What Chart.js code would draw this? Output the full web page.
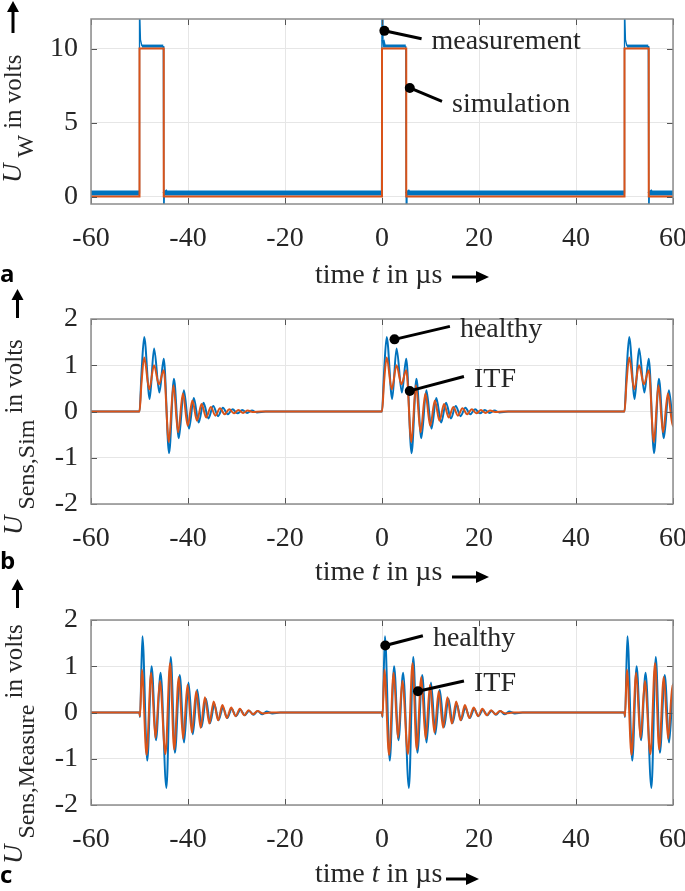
<!DOCTYPE html>
<html>
<head>
<meta charset="utf-8">
<script src="https://cdn.jsdelivr.net/npm/chart.js@4.4.1/dist/chart.umd.min.js"></script>
<style>
  body { margin: 0; background: #fff; }
  #wrap { position: relative; width: 685px; height: 891px; overflow: hidden;
          font-family: 'Liberation Serif', 'Times New Roman', serif; color: #262626; }
  canvas { position: absolute; left: 0; }
  .xt { position: absolute; left: 315px; font-size: 28px; line-height: 1; white-space: nowrap; }
  .yt { position: absolute; font-size: 25px; line-height: 1; white-space: nowrap;
        transform: rotate(-90deg); transform-origin: left top; }
  .yt i { font-size: 27px; }
  .yt sub { font-size: 24px; vertical-align: -0.5em; margin: 0 6px 0 6px; }
  .tag { position: absolute; left: 0; font-family: 'Open Sans', sans-serif; font-weight: bold;
         font-size: 24px; line-height: 1; color: #000; }
  svg.arr { position: absolute; overflow: visible; }
</style>
</head>
<body>
<div id="wrap">
  <canvas id="cA" width="685" height="260" style="top:0"></canvas>
  <canvas id="cB" width="685" height="260" style="top:300px"></canvas>
  <canvas id="cC" width="685" height="260" style="top:601px"></canvas>

  <div class="yt" style="left:-1px;top:183px"><i>U</i><sub>W</sub>in volts</div>
  <div class="yt" style="left:0;top:535px"><i>U</i><sub>Sens,Sim</sub>in volts</div>
  <div class="yt" style="left:0;top:864px"><i>U</i><sub>Sens,Measure</sub>in volts</div>

  <div class="xt" style="top:260px">time <i>t</i> in µs</div>
  <div class="xt" style="top:557px">time <i>t</i> in µs</div>
  <div class="xt" style="top:859px">time <i>t</i> in µs</div>

  <div class="tag" style="top:261px">a</div>
  <div class="tag" style="top:548px">b</div>
  <div class="tag" style="top:862px">c</div>

  <svg class="arr" width="1" height="1" style="left:0;top:0">
    <g fill="#000" stroke="#000">
      <line x1="13" y1="33" x2="13" y2="10" stroke-width="3"/><polygon points="7,12 19,12 13,1" stroke="none"/>
      <line x1="17.5" y1="318" x2="17.5" y2="298" stroke-width="3"/><polygon points="11.5,300 23.5,300 17.5,289" stroke="none"/>
      <line x1="17.5" y1="608" x2="17.5" y2="588" stroke-width="3"/><polygon points="11.5,590 23.5,590 17.5,579" stroke="none"/>
      <line x1="452" y1="277" x2="478" y2="277" stroke-width="3"/><polygon points="476,271 476,283 489,277" stroke="none"/>
      <line x1="452" y1="577" x2="478" y2="577" stroke-width="3"/><polygon points="476,571 476,583 489,577" stroke="none"/>
      <line x1="446" y1="879" x2="468" y2="879" stroke-width="3"/><polygon points="466,873 466,885 479,879" stroke="none"/>
    </g>
  </svg>
</div>

<script>
// ---- data ----
const xTicks = [-60, -40, -20, 0, 20, 40, 60];
const yTicksA = [0, 5, 10];
const yTicksBC = [-2, -1, 0, 1, 2];
const pulseStarts = [-50, 0, 50];

// panel a: gate voltage (time in µs, volts)
const measT = [-60, -50.1, -50.0, -49.8, -49.5, -45.1, -45.0, -44.85, -44.5,
               -0.1, 0.0, 0.2, 0.5, 4.9, 5.0, 5.15, 5.5,
               49.9, 50.0, 50.2, 50.5, 54.9, 55.0, 55.15, 55.5, 60];
const measV = [0.25, 0.25, 13.0, 10.6, 10.17, 10.17, -1.5, 0.4, 0.25,
               0.25, 13.0, 10.6, 10.17, 10.17, -1.5, 0.4, 0.25,
               0.25, 13.0, 10.6, 10.17, 10.17, -1.5, 0.4, 0.25, 0.25];
const simT = [-60, -50, -50, -45, -45, 0, 0, 5, 5, 50, 50, 55, 55, 60];
const simV = [0, 0, 10, 10, 0, 0, 10, 10, 0, 0, 10, 10, 0, 0];

// panel b: simulated sensor voltage, one burst (time after pulse start, volts)
const simHealthyRel = [0, 0.4, 0.97, 2.1, 3.0, 4.1, 5.0, 6.1, 7.1, 8.1, 9.15, 10.2, 11.2, 12.2, 13.2,
                       14.2, 15.2, 16.2, 17.2, 18.2, 19.2, 20.2, 21.2, 22.2, 23.2, 24.2, 26.0];
const simHealthyV = [0, 0.8, 1.61, 0.27, 1.36, 0.41, 1.14, -0.90, 0.71, -0.58, 0.46, -0.37, 0.29, -0.24, 0.19,
                     -0.15, 0.12, -0.10, 0.08, -0.06, 0.05, -0.04, 0.03, -0.03, 0.02, -0.02, 0];
const simItfRel = [0, 0.4, 0.97, 2.0, 3.0, 4.0, 5.0, 6.05, 7.0, 7.95, 8.95, 9.95, 10.9, 11.85, 12.8,
                   13.75, 14.7, 15.65, 16.6, 17.55, 18.5, 19.45, 20.4, 21.35, 22.3, 23.3, 25.0];
const simItfV = [0, 0.6, 1.17, 0.48, 1.00, 0.59, 0.89, -0.66, 0.57, -0.45, 0.39, -0.31, 0.24, -0.20, 0.16,
                 -0.13, 0.10, -0.09, 0.07, -0.06, 0.05, -0.04, 0.03, -0.03, 0.02, -0.01, 0];

// panel c: measured sensor voltage, one burst
const measHealthyRel = [0, 0.1, 0.6, 1.6, 2.5, 3.4, 4.35, 5.55, 6.45, 7.3, 8.3, 9.2, 10.1, 11.0, 11.9, 12.8,
                        13.7, 14.55, 15.45, 16.3, 17.2, 18.1, 19.0, 19.9, 20.8, 21.7, 22.6, 23.5, 24.4,
                        25.3, 26.2, 27.4, 29.0];
const measHealthyV = [0, -0.1, 1.65, -1.04, 1.00, -0.60, 0.86, -1.63, 1.20, -0.87, 0.81, -0.65, 0.65, -0.47, 0.49, -0.32,
                      0.30, -0.23, 0.18, -0.17, 0.11, -0.12, 0.08, -0.08, 0.06, -0.06, 0.04, -0.05, 0.03,
                      -0.04, 0.02, -0.02, 0];
const measItfRel = [0, 0.1, 0.5, 1.45, 2.4, 3.3, 4.2, 5.35, 6.3, 7.15, 8.1, 9.0, 9.9, 10.8, 11.7, 12.6,
                    13.5, 14.4, 15.3, 16.2, 17.1, 18.0, 18.9, 19.8, 20.7, 21.6, 22.5, 23.4, 24.3, 25.5, 27.0];
const measItfV = [0, -0.08, 0.93, -0.92, 0.86, -0.55, 0.68, -0.90, 1.07, -0.80, 0.77, -0.57, 0.60, -0.43, 0.46, -0.33,
                  0.33, -0.24, 0.24, -0.17, 0.16, -0.12, 0.11, -0.08, 0.08, -0.06, 0.05, -0.04, 0.03, -0.02, 0];

const BLUE = '#0072BD';
const ORANGE = '#D95319';
const FONT = 'Liberation Serif, serif';
Chart.defaults.font.family = FONT;

function pairs(ts, vs) {
  return ts.map((t, i) => ({ x: t, y: vs[i] }));
}

// repeat one read burst at every pulse start
function burstTrain(rel, val) {
  const pts = [{ x: -60, y: 0 }];
  pulseStarts.forEach(t0 => rel.forEach((r, i) => pts.push({ x: t0 + r, y: val[i] })));
  return pts;
}

// box, inward ticks and the dot-and-line callouts
const frame = {
  id: 'frame',
  afterDatasetsDraw(chart, args, opts) {
    const { ctx, chartArea: a, scales: { x, y } } = chart;
    ctx.save();
    ctx.strokeStyle = '#555';
    ctx.lineWidth = 1;
    ctx.beginPath();
    x.ticks.forEach(t => {
      const px = Math.round(x.getPixelForValue(t.value)) + 0.5;
      ctx.moveTo(px, a.bottom); ctx.lineTo(px, a.bottom - 6);
      ctx.moveTo(px, a.top); ctx.lineTo(px, a.top + 6);
    });
    y.ticks.forEach(t => {
      const py = Math.round(y.getPixelForValue(t.value)) + 0.5;
      ctx.moveTo(a.left, py); ctx.lineTo(a.left + 6, py);
      ctx.moveTo(a.right, py); ctx.lineTo(a.right - 6, py);
    });
    ctx.stroke();
    ctx.strokeStyle = '#8c8c8c';
    ctx.lineWidth = 1.5;
    ctx.strokeRect(a.left, a.top, a.width, a.height);

    (opts.items || []).forEach(it => {
      const dx = x.getPixelForValue(it.dot[0]), dy = y.getPixelForValue(it.dot[1]);
      const ex = x.getPixelForValue(it.end[0]), ey = y.getPixelForValue(it.end[1]);
      ctx.strokeStyle = '#000';
      ctx.lineWidth = 3;
      ctx.beginPath(); ctx.moveTo(dx, dy); ctx.lineTo(ex, ey); ctx.stroke();
      ctx.fillStyle = '#000';
      ctx.beginPath(); ctx.arc(dx, dy, 5, 0, Math.PI * 2); ctx.fill();
      ctx.fillStyle = '#262626';
      ctx.font = '28px ' + FONT;
      ctx.textBaseline = 'middle';
      ctx.fillText(it.text, ex + 10, ey + 3);
    });
    ctx.restore();
  }
};

function makeChart(id, datasets, yMin, yMax, yTicks, callouts) {
  return new Chart(document.getElementById(id), {
    type: 'line',
    data: { datasets },
    options: {
      responsive: false,
      animation: false,
      devicePixelRatio: 1,
      events: [],
      layout: { padding: { top: 19, right: 12, bottom: 6, left: 0 } },
      elements: { point: { radius: 0 } },
      plugins: {
        legend: { display: false },
        tooltip: { enabled: false },
        frame: { items: callouts }
      },
      scales: {
        x: {
          type: 'linear', min: -60, max: 60,
          afterBuildTicks: s => { s.ticks = xTicks.map(v => ({ value: v })); },
          afterFit: s => { s.height = 50; s.paddingLeft = 0; s.paddingRight = 0; },
          ticks: { color: '#262626', font: { family: FONT, size: 28 }, padding: 18,
                   maxRotation: 0, autoSkip: false, callback: v => String(v) },
          grid: { color: '#e6e6e6', drawTicks: false },
          border: { display: false }
        },
        y: {
          min: yMin, max: yMax,
          afterBuildTicks: s => { s.ticks = yTicks.map(v => ({ value: v })); },
          afterFit: s => { s.width = 91; s.paddingTop = 0; s.paddingBottom = 0; },
          ticks: { color: '#262626', font: { family: FONT, size: 28 }, padding: 13,
                   callback: v => String(v) },
          grid: { color: '#e6e6e6', drawTicks: false },
          border: { display: false }
        }
      }
    },
    plugins: [frame]
  });
}

makeChart('cA', [
  { label: 'simulation', data: pairs(simT, simV), borderColor: ORANGE, borderWidth: 2, order: 0 },
  { label: 'measurement', data: pairs(measT, measV), borderColor: BLUE, borderWidth: 3, order: 1,
    segment: { borderWidth: c => Math.abs(c.p1.parsed.x - c.p0.parsed.x) < 0.3 ? 1.3 : (c.p0.parsed.y > 5 ? 3 : 5) } }
], -0.5, 12, yTicksA, [
  { dot: [0.49, 11.2], end: [8.16, 10.66], text: 'measurement' },
  { dot: [5.73, 7.34], end: [12.37, 6.43], text: 'simulation' }
]);

makeChart('cB', [
  { label: 'ITF', data: burstTrain(simItfRel, simItfV), borderColor: ORANGE, borderWidth: 2,
    cubicInterpolationMode: 'monotone', order: 0 },
  { label: 'healthy', data: burstTrain(simHealthyRel, simHealthyV), borderColor: BLUE, borderWidth: 2,
    cubicInterpolationMode: 'monotone', order: 1 }
], -2, 2, yTicksBC, [
  { dot: [2.58, 1.56], end: [14.0, 1.84], text: 'healthy' },
  { dot: [5.73, 0.445], end: [16.9, 0.756], text: 'ITF' }
]);

makeChart('cC', [
  { label: 'ITF', data: burstTrain(measItfRel, measItfV), borderColor: ORANGE, borderWidth: 2,
    cubicInterpolationMode: 'monotone', order: 0 },
  { label: 'healthy', data: burstTrain(measHealthyRel, measHealthyV), borderColor: BLUE, borderWidth: 2,
    cubicInterpolationMode: 'monotone', order: 1 }
], -2, 2, yTicksBC, [
  { dot: [0.68, 1.45], end: [8.43, 1.66], text: 'healthy' },
  { dot: [7.42, 0.46], end: [16.9, 0.68], text: 'ITF' }
]);
</script>
</body>
</html>
